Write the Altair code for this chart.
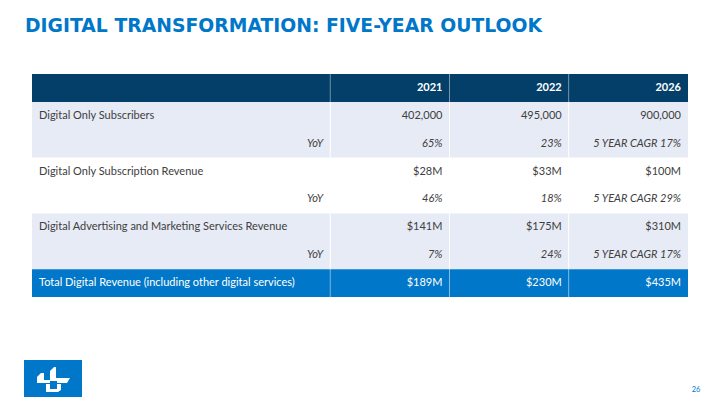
import altair as alt
import pandas as pd

# ---------------- data ----------------
title = "DIGITAL TRANSFORMATION: FIVE-YEAR OUTLOOK"
years = ["2021", "2022", "2026"]
metrics = [
    "Digital Only Subscribers",
    "Digital Only Subscription Revenue",
    "Digital Advertising and Marketing Services Revenue",
]
subs = ["402,000", "495,000", "900,000"]
subs_yoy = ["65%", "23%", "5 YEAR CAGR 17%"]
subrev = ["$28M", "$33M", "$100M"]
subrev_yoy = ["46%", "18%", "5 YEAR CAGR 29%"]
adv = ["$141M", "$175M", "$310M"]
adv_yoy = ["7%", "24%", "5 YEAR CAGR 17%"]
total_label = "Total Digital Revenue (including other digital services)"
total = ["$189M", "$230M", "$435M"]
yoy_label = "YoY"
page_number = "26"

# ---------------- colours ----------------
NAVY = "#033f69"
SHADE = "#e6ebf5"
BLUE = "#0077c8"
TEXT = "#404040"

# ---------------- table layout built from the data ----------------
col_weights = [2.5, 1, 1, 1]
col_start = [sum(col_weights[:i]) for i in range(4)]
col_end = [sum(col_weights[: i + 1]) for i in range(4)]
n_rows = 8

bands = [  # (kind, first row, last row exclusive)
    ("header", 0, 1),
    ("shade", 1, 3),
    ("plain", 3, 5),
    ("shade", 5, 7),
    ("total", 7, 8),
]
band_rows = []
for kind, r0, r1 in bands:
    for c in range(4):
        band_rows.append(dict(kind=kind, r0=r0, r1=r1, c0=col_start[c], c1=col_end[c]))
band_df = pd.DataFrame(band_rows)

sep_rows = []
sep_op = {"header": 0.3, "shade": 1.0, "total": 0.35}
for kind, r0, r1 in bands:
    if kind in sep_op:
        for c in range(1, 4):
            sep_rows.append(dict(x=col_start[c], r0=r0, r1=r1, op=sep_op[kind]))
sep_df = pd.DataFrame(sep_rows)

cells = []
for i, yv in enumerate(years):
    cells.append(dict(r=0, x=col_end[i + 1], text=yv, style="header"))
blocks = [(metrics[0], subs, subs_yoy), (metrics[1], subrev, subrev_yoy), (metrics[2], adv, adv_yoy)]
for b, (name, vals, yoys) in enumerate(blocks):
    r = 1 + 2 * b
    cells.append(dict(r=r, x=col_start[0], text=name, style="label"))
    for i, v in enumerate(vals):
        cells.append(dict(r=r, x=col_end[i + 1], text=v, style="value"))
    cells.append(dict(r=r + 1, x=col_end[0], text=yoy_label, style="yoy"))
    for i, v in enumerate(yoys):
        cells.append(dict(r=r + 1, x=col_end[i + 1], text=v, style="yoy"))
cells.append(dict(r=7, x=col_start[0], text=total_label, style="total_label"))
for i, v in enumerate(total):
    cells.append(dict(r=7, x=col_end[i + 1], text=v, style="total_value"))
cell_df = pd.DataFrame(cells)
cell_df["yc"] = cell_df["r"] + 0.5
cell_df["color"] = cell_df["style"].map(
    {"header": "white", "label": TEXT, "value": TEXT, "yoy": TEXT,
     "total_label": "white", "total_value": "white"})

# ---------------- scales ----------------
W, H = 704, 389
xs = alt.Scale(domain=[0, sum(col_weights)], range=[24, 680], nice=False, zero=False)
ys = alt.Scale(domain=[0, n_rows], range=[66, 289], nice=False, zero=False)
FONT = "Lato"
FS = 11

rects = alt.Chart(band_df).mark_rect(strokeWidth=0).encode(
    x=alt.X("c0:Q", scale=xs, axis=None),
    x2="c1:Q",
    y=alt.Y("r0:Q", scale=ys, axis=None),
    y2="r1:Q",
    fill=alt.Fill("kind:N", legend=None,
                  scale=alt.Scale(domain=["header", "shade", "plain", "total"],
                                  range=[NAVY, SHADE, "white", BLUE])),
)

seps = alt.Chart(sep_df).mark_rule(color="white", strokeWidth=1).encode(
    x=alt.X("x:Q", scale=xs, axis=None),
    y=alt.Y("r0:Q", scale=ys, axis=None),
    y2="r1:Q",
    strokeOpacity=alt.StrokeOpacity("op:Q", scale=None, legend=None),
)

def text_layer(styles, align, dx, **kw):
    return alt.Chart(cell_df).transform_filter(
        alt.FieldOneOfPredicate(field="style", oneOf=styles)
    ).mark_text(align=align, baseline="middle", dx=dx, font=FONT, fontSize=FS, **kw).encode(
        x=alt.X("x:Q", scale=xs, axis=None),
        y=alt.Y("yc:Q", scale=ys, axis=None),
        text="text:N",
        color=alt.Color("color:N", scale=None, legend=None),
    )

t_header = text_layer(["header"], "right", -7, fontWeight="bold")
t_left = text_layer(["label", "total_label"], "left", 7)
t_right = text_layer(["value", "total_value"], "right", -7)
t_yoy = text_layer(["yoy"], "right", -7, fontStyle="italic")

title_layer = alt.Chart(pd.DataFrame({"t": [title]})).mark_text(
    align="left", baseline="alphabetic", font="DejaVu Sans", fontSize=18.8, fontWeight="bold", color=BLUE
).encode(text="t:N", x=alt.value(17), y=alt.value(24))

page_layer = alt.Chart(pd.DataFrame({"t": [page_number]})).mark_text(
    align="center", baseline="middle", font=FONT, fontSize=7.5, color=BLUE
).encode(text="t:N", x=alt.value(688), y=alt.value(382))

logo_box = alt.Chart(pd.DataFrame({"a": [0]})).mark_rect(color=BLUE).encode(
    x=alt.value(16), x2=alt.value(74), y=alt.value(352), y2=alt.value(389)
)
logo_path = (
    "M-0.889,-0.056L-0.667,-0.278L-0.5,-0.278L-0.5,0.111L-0.167,0.111L-0.167,0.278L-0.889,0.278Z"
    "M-0.167,-0.389L0.056,-0.611L0.167,-0.611L0.167,0L0.944,0L0.778,0.278L0.222,0.278L0.222,0.167L-0.167,0.167Z"
    "M-0.389,0.333L-0.167,0.333L-0.167,0.611L0.222,0.611L0.222,0.333L0.444,0.333L0.444,0.667L0.278,0.778L-0.389,0.778Z"
)
logo_mark = alt.Chart(pd.DataFrame({"a": [0]})).mark_point(
    shape=logo_path, filled=True, color="white", opacity=1, size=1296, strokeWidth=0
).encode(x=alt.value(45), y=alt.value(370))

chart = alt.layer(
    rects, seps, t_header, t_left, t_right, t_yoy, title_layer, page_layer, logo_box, logo_mark
).properties(
    width=W, height=H, padding=0, autosize="none", background="white"
).configure_view(stroke=None)

chart.save("out.html", embed_options={"renderer": "svg", "actions": False})
